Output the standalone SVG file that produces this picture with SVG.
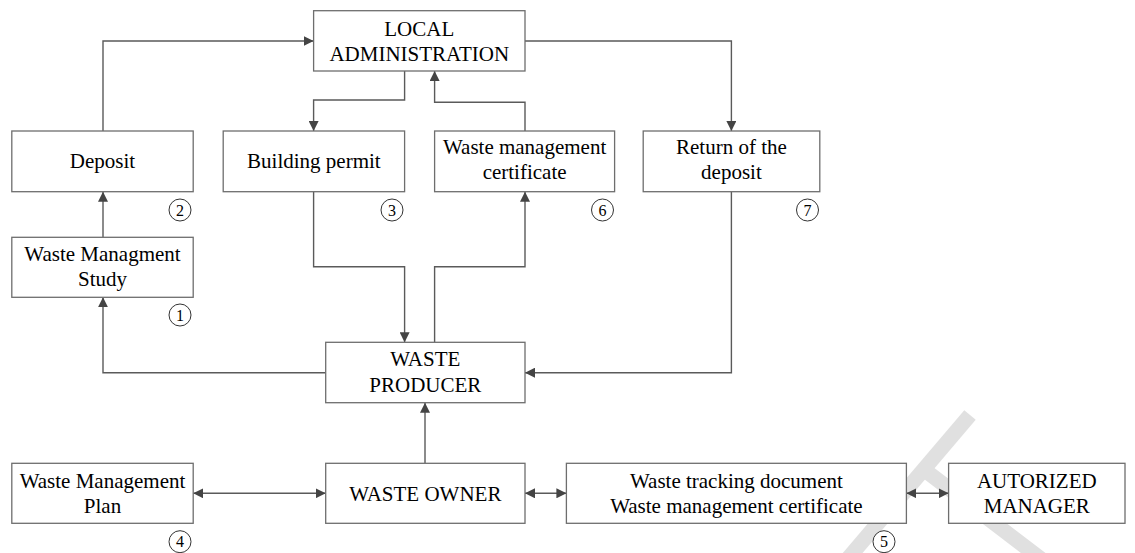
<svg xmlns="http://www.w3.org/2000/svg" width="1135" height="553" viewBox="0 0 1135 553">
<defs>
<style>
.box{fill:#fff;stroke:#6e6e6e;stroke-width:1.3}
.t{font-family:"Liberation Serif","Times New Roman",serif;font-size:21px;fill:#000;text-anchor:middle}
.n{font-family:"Liberation Serif","Times New Roman",serif;font-size:16px;fill:#000;text-anchor:middle}
.c{fill:#fff;stroke:#333;stroke-width:1}
.ln{fill:none;stroke:#5a5a5a;stroke-width:1.4}
</style>
<marker id="ah" viewBox="0 0 10 10" refX="10" refY="5" markerWidth="10" markerHeight="10" markerUnits="userSpaceOnUse" orient="auto-start-reverse">
<path d="M0,0 L10,5 L0,10 Z" fill="#444"/>
</marker>
</defs>
<rect width="1135" height="553" fill="#fff"/>
<g id="watermark" fill="none" stroke="#e0e0e0" stroke-width="15">
<path d="M970,415 L845,562"/>
<path d="M922,468 L1045,562"/>
</g>
<g id="connectors" class="ln">
<path d="M103,131 V41 H313.6" marker-end="url(#ah)"/>
<path d="M404.6,71 V100 H313.6 V131" marker-end="url(#ah)"/>
<path d="M525,131 V102.3 H434.6 V71" marker-end="url(#ah)"/>
<path d="M525,41 H731.4 V131" marker-end="url(#ah)"/>
<path d="M103,237.3 V191.7" marker-end="url(#ah)"/>
<path d="M313.6,191.7 V266.7 H404.6 V342.3" marker-end="url(#ah)"/>
<path d="M434.6,342.3 V266.7 H525 V191.7" marker-end="url(#ah)"/>
<path d="M325.7,372.7 H103 V297.3" marker-end="url(#ah)"/>
<path d="M731.4,191.7 V372.7 H525" marker-end="url(#ah)"/>
<path d="M425,463.3 V402.7" marker-end="url(#ah)"/>
<path d="M193.2,493.3 H325.7" marker-start="url(#ah)" marker-end="url(#ah)"/>
<path d="M525,493.3 H566.4" marker-start="url(#ah)" marker-end="url(#ah)"/>
<path d="M906.4,493.3 H948.6" marker-start="url(#ah)" marker-end="url(#ah)"/>
</g>
<g id="local-administration">
<rect class="box" x="313.6" y="10.7" width="211.4" height="60.3"/>
<text class="t" x="419.3" y="35.5">LOCAL</text>
<text class="t" x="419.3" y="60.5">ADMINISTRATION</text>
</g>
<g id="deposit">
<rect class="box" x="11.8" y="131" width="181.4" height="60.7"/>
<text class="t" x="102.5" y="168">Deposit</text>
<circle class="c" cx="180" cy="210" r="11"/>
<text class="n" x="180" y="215.5">2</text>
</g>
<g id="building-permit">
<rect class="box" x="223.2" y="131" width="181.4" height="60.7"/>
<text class="t" x="313.9" y="168">Building permit</text>
<circle class="c" cx="392" cy="210" r="11"/>
<text class="n" x="392" y="215.5">3</text>
</g>
<g id="waste-management-certificate">
<rect class="box" x="434.6" y="131" width="180" height="60.7"/>
<text class="t" x="524.6" y="154">Waste management</text>
<text class="t" x="524.6" y="179">certificate</text>
<circle class="c" cx="602.5" cy="210" r="11"/>
<text class="n" x="602.5" y="215.5">6</text>
</g>
<g id="return-deposit">
<rect class="box" x="643.2" y="131" width="176.6" height="60.7"/>
<text class="t" x="731.4" y="154">Return of the</text>
<text class="t" x="731.4" y="179">deposit</text>
<circle class="c" cx="807.5" cy="210" r="11"/>
<text class="n" x="807.5" y="215.5">7</text>
</g>
<g id="waste-management-study">
<rect class="box" x="11.8" y="237.3" width="181.4" height="60"/>
<text class="t" x="102.5" y="260.5">Waste Managment</text>
<text class="t" x="102.5" y="285.5">Study</text>
<circle class="c" cx="180" cy="315" r="11"/>
<text class="n" x="180" y="320.5">1</text>
</g>
<g id="waste-producer">
<rect class="box" x="325.7" y="342.3" width="199.3" height="60.4"/>
<text class="t" x="425.3" y="366">WASTE</text>
<text class="t" x="425.3" y="391.5">PRODUCER</text>
</g>
<g id="waste-management-plan">
<rect class="box" x="11.8" y="463.3" width="181.4" height="60"/>
<text class="t" x="102.5" y="487.5">Waste Management</text>
<text class="t" x="102.5" y="513">Plan</text>
<circle class="c" cx="180" cy="541.7" r="11"/>
<text class="n" x="180" y="547.2">4</text>
</g>
<g id="waste-owner">
<rect class="box" x="325.7" y="463.3" width="199.3" height="60"/>
<text class="t" x="425.3" y="500.5">WASTE OWNER</text>
</g>
<g id="waste-tracking">
<rect class="box" x="566.4" y="463.3" width="340" height="60"/>
<text class="t" x="736.4" y="487.5">Waste tracking document</text>
<text class="t" x="736.4" y="513">Waste management certificate</text>
<circle class="c" cx="884" cy="541.7" r="11"/>
<text class="n" x="884" y="547.2">5</text>
</g>
<g id="autorized-manager">
<rect class="box" x="948.6" y="463.3" width="176.4" height="60"/>
<text class="t" x="1036.8" y="487.5">AUTORIZED</text>
<text class="t" x="1036.8" y="513">MANAGER</text>
</g>
</svg>
